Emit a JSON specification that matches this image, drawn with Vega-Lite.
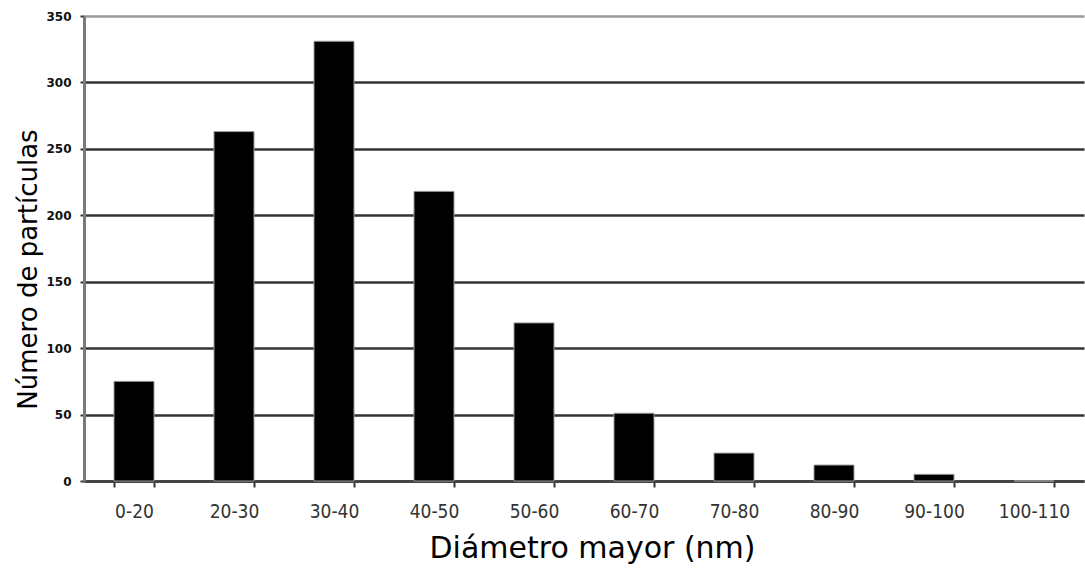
{
  "$schema": "https://vega.github.io/schema/vega-lite/v6.json",
  "autosize": {"type": "none"},
  "padding": {"left": 84, "top": 16, "right": 1, "bottom": 88},
  "width": 1000,
  "height": 465,
  "background": "white",
  "config": {"view": {"stroke": null}},
  "data": {
    "values": [
      {"rango": "0-20", "n": 75},
      {"rango": "20-30", "n": 263},
      {"rango": "30-40", "n": 331},
      {"rango": "40-50", "n": 218},
      {"rango": "50-60", "n": 119},
      {"rango": "60-70", "n": 51},
      {"rango": "70-80", "n": 21},
      {"rango": "80-90", "n": 12},
      {"rango": "90-100", "n": 5},
      {"rango": "100-110", "n": 0}
    ]
  },
  "mark": {"type": "bar", "color": "#000000", "stroke": "#9a9a9a", "strokeWidth": 1},
  "encoding": {
    "x": {
      "field": "rango",
      "type": "nominal",
      "sort": null,
      "scale": {"paddingInner": 0.6, "paddingOuter": 0.3},
      "axis": {
        "title": "Diámetro mayor (nm)",
        "titleFont": "DejaVu Sans",
        "titleFontSize": 30,
        "titleFontWeight": "normal",
        "titleColor": "#000000",
        "titlePadding": 12,
        "titleX": 508,
        "labelAngle": 0,
        "labelFont": "DejaVu Sans Condensed",
        "labelFontSize": 19,
        "labelColor": "#333333",
        "labelPadding": 15,
        "tickBand": "extent",
        "tickSize": 6,
        "tickWidth": 2,
        "tickColor": "#333333",
        "domainColor": "#444444",
        "domainWidth": 3,
        "grid": false
      }
    },
    "y": {
      "field": "n",
      "type": "quantitative",
      "scale": {"domain": [0, 350], "nice": false},
      "axis": {
        "title": "Número de partículas",
        "titleFont": "DejaVu Sans",
        "titleFontSize": 26,
        "titleFontWeight": "normal",
        "titleColor": "#000000",
        "titlePadding": 4,
        "titleY": 253,
        "values": [0, 50, 100, 150, 200, 250, 300, 350],
        "labelFont": "DejaVu Sans",
        "labelFontSize": 12,
        "labelFontWeight": "bold",
        "labelColor": "#111111",
        "labelPadding": 9,
        "tickSize": 4,
        "tickWidth": 2,
        "tickColor": "#333333",
        "domainColor": "#7a7a7a",
        "domainWidth": 3,
        "grid": true,
        "gridColor": {"condition": {"test": "datum.value === 350", "value": "#999999"}, "value": "#333333"},
        "gridWidth": 2.5,
        "gridOpacity": 1
      }
    }
  }
}
